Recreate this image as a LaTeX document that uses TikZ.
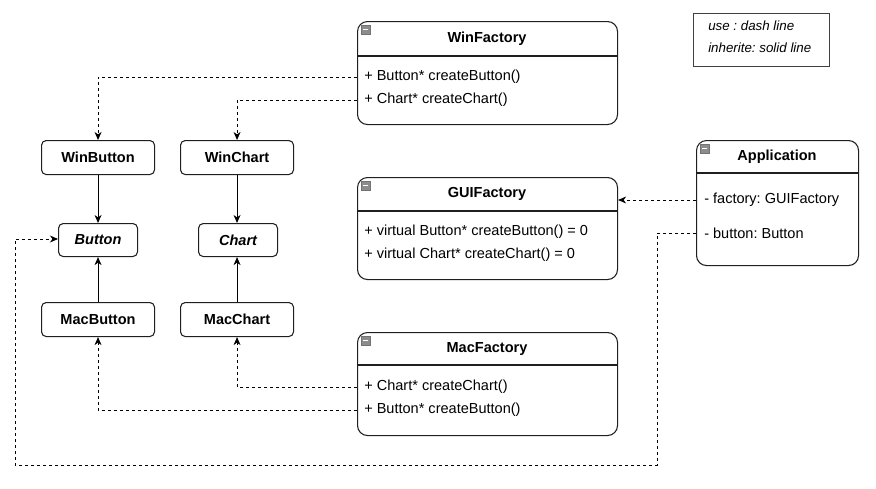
\documentclass[tikz,border=0pt]{standalone}
\usepackage{fontspec}
\setmainfont{Liberation Sans}
\usetikzlibrary{arrows.meta}
\frenchspacing
\begin{document}
\begin{tikzpicture}[x=0.75pt,y=-0.75pt,
  font=\fontsize{10.9pt}{13pt}\selectfont,
  every node/.style={inner sep=0pt},
  cls/.style={draw=black!88, line width=0.8pt, rounded corners=7.5pt, anchor=north west},
  small/.style={draw=black!88, line width=0.8pt, rounded corners=3.5pt, anchor=north west},
  title/.style={font=\fontsize{10.9pt}{13pt}\selectfont\bfseries},
  row/.style={anchor=west},
  note/.style={anchor=west, font=\fontsize{10pt}{12pt}\selectfont\itshape},
  tip/.style={-{Stealth[length=6pt,width=5.2pt,inset=1.8pt]}},
  uses/.style={tip, line width=0.7pt, dash pattern=on 2.25pt off 2.25pt},
  inherits/.style={tip, line width=0.8pt},
  minus/.style={fill=black!45, draw=black!55, line width=0.3pt}]

\useasboundingbox (0,0) rectangle (876,489);

% ---------- legend ----------
\node (legend) [draw=black!75, line width=0.7pt, anchor=north west,
  minimum width=102pt, minimum height=39.75pt] at (693,13) {};
\node (lg1) [note] at (708,26) {use : dash line};
\node (lg2) [note] at (708,48) {inherite: solid line};

% ---------- factories ----------
% WinFactory
\node (wf) [cls, minimum width=195pt, minimum height=77.25pt] at (357,21) {};
\draw[line width=0.8pt, black!88] (357,56) -- (617,56);
\node (wft) [title] at (487,39) {WinFactory};
\node (wfb) [row] at (364,77) {+ Button* createButton()};
\node (wfc) [row] at (364,100) {+ Chart* createChart()};
\coordinate (wfbL) at (357,77);
\coordinate (wfcL) at (357,100);

% GUIFactory
\node (gf) [cls, minimum width=195pt, minimum height=76.5pt] at (357,177) {};
\draw[line width=0.8pt, black!88] (357,211) -- (617,211);
\node (gft) [title] at (487,194) {GUIFactory};
\node (gfb) [row] at (364,232) {+ virtual Button* createButton() = 0};
\node (gfc) [row] at (364,255) {+ virtual Chart* createChart() = 0};

% MacFactory
\node (mf) [cls, minimum width=195pt, minimum height=77.25pt] at (357,332) {};
\draw[line width=0.8pt, black!88] (357,365) -- (617,365);
\node (mft) [title] at (487,349) {MacFactory};
\node (mfc) [row] at (364,387) {+ Chart* createChart()};
\node (mfb) [row] at (364,410) {+ Button* createButton()};
\coordinate (mfcL) at (357,387);
\coordinate (mfbL) at (357,410);

% Application
\node (app) [cls, minimum width=121.5pt, minimum height=93.75pt] at (696,140) {};
\draw[line width=0.8pt, black!88] (696,173) -- (858,173);
\node (appt) [title] at (777,157) {Application};
\node (appf) [row] at (704,200) {- factory: GUIFactory};
\node (appb) [row] at (704,233) {- button: Button};
\coordinate (appfL) at (696,200);
\coordinate (appbL) at (696,233);

% collapse markers
\foreach \px/\py in {361/25, 361/181, 361/336, 700/144}{
  \draw[minus] (\px,\py) rectangle ++(9,9);
  \draw[white, line width=0.8pt] (\px+2,\py+4.5) -- (\px+7,\py+4.5);
}

% ---------- products ----------
\node (winbutton) [small, minimum width=84.75pt, minimum height=25.5pt] at (41,140) {};
\node at (winbutton.center) [title] {WinButton};
\node (button) [small, minimum width=59.25pt, minimum height=24.75pt] at (58,223) {};
\node at (button.center) [title] {\itshape Button};
\node (macbutton) [small, minimum width=84.75pt, minimum height=25.5pt] at (41,302) {};
\node at (macbutton.center) [title] {MacButton};

\node (winchart) [small, minimum width=84.75pt, minimum height=25.5pt] at (180,140) {};
\node at (winchart.center) [title] {WinChart};
\node (chart) [small, minimum width=59.25pt, minimum height=24.75pt] at (198,223) {};
\node at (chart.center) [title] {\itshape Chart};
\node (macchart) [small, minimum width=84.75pt, minimum height=25.5pt] at (180,302) {};
\node at (macchart.center) [title] {MacChart};

% ---------- inheritance ----------
\draw[inherits] (winbutton.south) -- (winbutton.south |- button.north);
\draw[inherits] (macbutton.north) -- (macbutton.north |- button.south);
\draw[inherits] (winchart.south) -- (winchart.south |- chart.north);
\draw[inherits] (macchart.north) -- (macchart.north |- chart.south);

% ---------- uses ----------
\draw[uses] (wfbL) -| (winbutton.north);
\draw[uses] (wfcL) -| (winchart.north);
\draw[uses] (mfcL) -| (macchart.south);
\draw[uses] (mfbL) -| (macbutton.south);
\draw[uses] (appfL) -- (gf.east |- appfL);
\coordinate (c1) at (657,465);
\coordinate (c2) at (15,465);
\coordinate (c3) at (15,239);
\draw[uses] (appbL) -| (c1) -- (c2) -- (c3) -- (button.west |- c3);

\end{tikzpicture}
\end{document}
